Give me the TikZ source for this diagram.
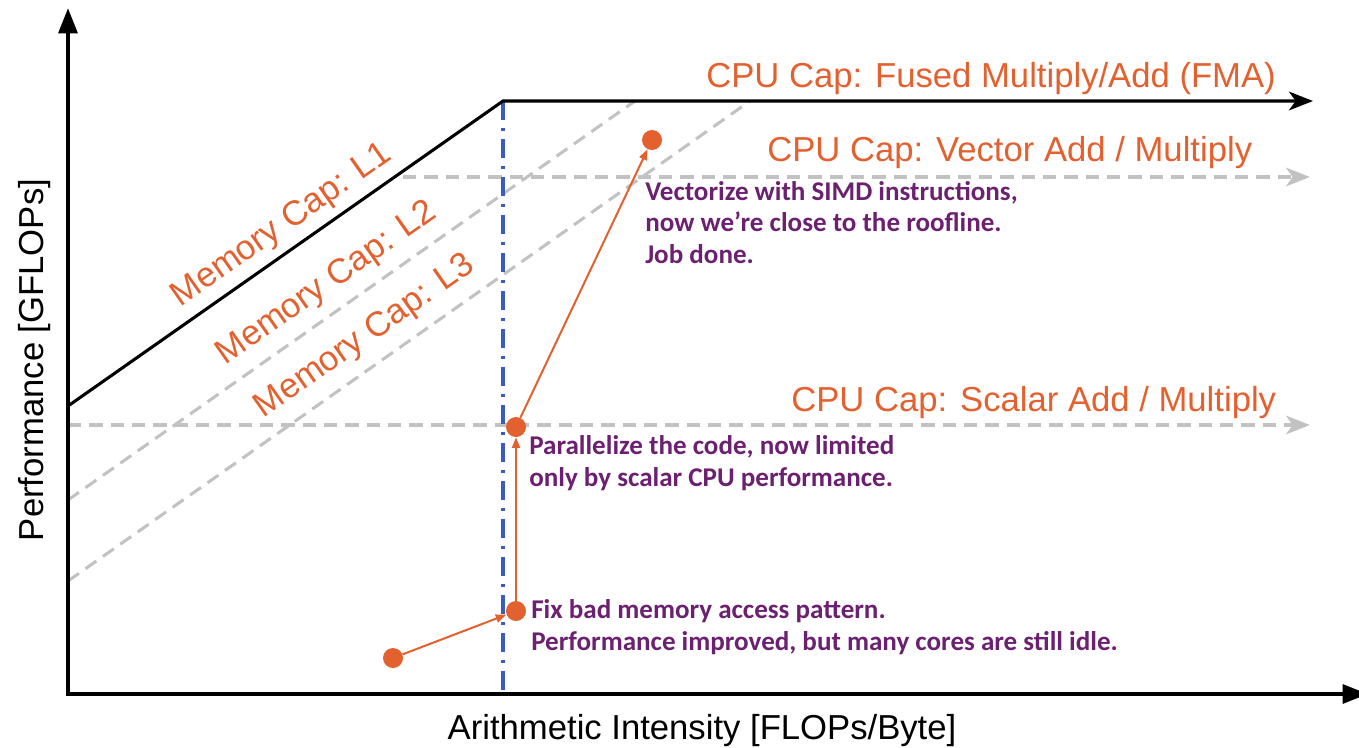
\documentclass[tikz,border=0pt]{standalone}
\usepackage{fontspec}
\setmainfont{Liberation Sans}
\newfontfamily\notefont{Carlito}
\usetikzlibrary{arrows.meta}
\definecolor{capred}{HTML}{E3602F}
\definecolor{notepurple}{HTML}{6B2070}
\definecolor{ridgeblue}{HTML}{3A5BBF}
\definecolor{ceilgray}{HTML}{C2C2C2}
\begin{document}
\begin{tikzpicture}[x=0.75pt,y=-0.75pt,
  axis/.style={line width=3pt, line join=miter,
    {Triangle[length=19pt,width=14pt]}-{Triangle[length=19pt,width=14pt]}},
  roof/.style={line width=2.3pt, -{Stealth[length=18pt,width=14pt,inset=5pt]}},
  ceiling/.style={ceilgray, line width=2.3pt, dash pattern=on 10pt off 6pt},
  ceilarrow/.style={ceiling, -{Stealth[length=18pt,width=14pt,inset=5pt]}},
  ridge/.style={ridgeblue, line width=2.5pt, dash pattern=on 14pt off 6pt on 2.5pt off 6pt},
  captext/.style={text=capred, font=\fontsize{26pt}{30pt}\selectfont, inner sep=0pt},
  axislabel/.style={text=black, font=\fontsize{26pt}{30pt}\selectfont, inner sep=0pt},
  note/.style={text=notepurple, font=\notefont\bfseries\fontsize{20.3pt}{23.6pt}\selectfont,
    align=left, inner sep=0pt},
  dot/.style={circle, fill=capred, minimum size=15pt, inner sep=0pt},
  stepline/.style={capred, line width=1.5pt, -{Triangle[length=8pt,width=6pt]}}]
\useasboundingbox (0,0) rectangle (1359,747);

% frame and roofline reference points
\coordinate (O) at (68,694);
\coordinate (ytop) at (68,8);
\coordinate (xend) at (1368,694);
\coordinate (knee) at (503,101);
\coordinate (roofL) at (68,406);
\coordinate (roofR) at (1313,101);
\coordinate (l2a) at (68,500);
\coordinate (l2b) at (635,101);
\coordinate (l3a) at (68,581);
\coordinate (l3b) at (750,101);
\coordinate (vecA) at (403,177);
\coordinate (vecB) at (1310,177);
\coordinate (scaA) at (68,425);
\coordinate (scaB) at (1310,425);
\coordinate (ridgeB) at (503,694);

% lower ceilings (L2, L3 bandwidth, vector and scalar compute)
\draw[ceiling] (l2a) -- (l2b);
\draw[ceiling] (l3a) -- (l3b);
\draw[ceilarrow] (vecA) -- (vecB);
\draw[ceilarrow] (scaA) -- (scaB);

% ridge point
\draw[ridge] (knee) -- (ridgeB);

% roofline: L1 bandwidth and FMA peak
\draw[roof] (roofL) -- (knee) -- (roofR);

% axes
\draw[axis] (ytop) -- (O) -- (xend);

% optimisation steps
\node[dot] (d1) at (393,658) {};
\node[dot] (d2) at (516,611) {};
\node[dot] (d3) at (516,427) {};
\node[dot] (d4) at (652,140) {};
\draw[stepline] (d1) -- (d2);
\draw[stepline] (d2) -- (d3);
\draw[stepline] (d3) -- (d4);

% ceiling labels
\node[captext, anchor=base west] (fma) at (706,87) {CPU Cap: Fused Multiply/Add (FMA)};
\node[captext, anchor=base west] (vec) at (767,161) {CPU Cap: Vector Add / Multiply};
\node[captext, anchor=base west] (sca) at (791,411) {CPU Cap: Scalar Add / Multiply};
\node[captext, rotate=35.1] (m1) at (282,226) {Memory Cap: L1};
\node[captext, rotate=35.1] (m2) at (327,284) {Memory Cap: L2};
\node[captext, rotate=35.1] (m3) at (365,337) {Memory Cap: L3};

% step notes (base anchor sits on the last line)
\node[note, anchor=base west] (n3) at (645,263) {Vectorize with SIMD instructions,\\now we’re close to the roofline.\\Job done.};
\node[note, anchor=base west] (n2) at (529,486) {Parallelize the code, now limited\\only by scalar CPU performance.};
\node[note, anchor=base west] (n1) at (531,650) {Fix bad memory access pattern.\\Performance improved, but many cores are still idle.};

% axis titles
\node[axislabel, anchor=base] (xl) at (702,739) {Arithmetic Intensity [FLOPs/Byte]};
\node[axislabel, anchor=base, rotate=90] (yl) at (43,360) {Performance [GFLOPs]};
\end{tikzpicture}
\end{document}
